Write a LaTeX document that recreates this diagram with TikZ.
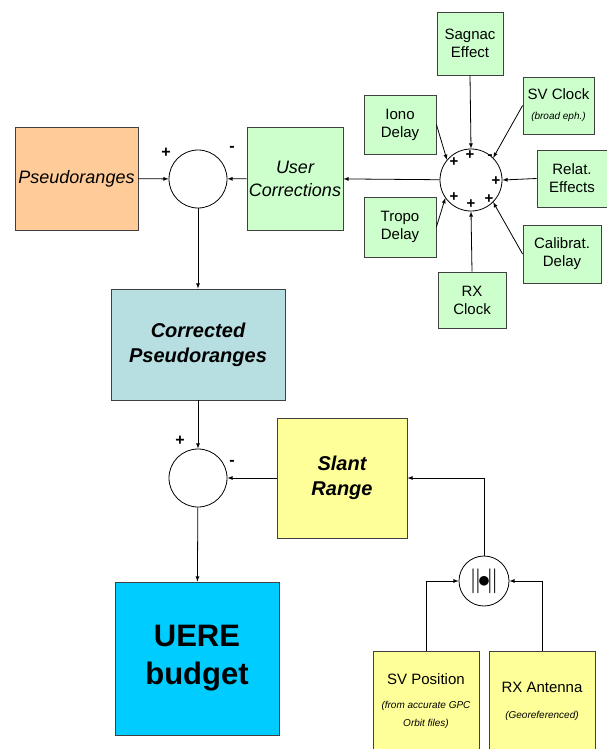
\documentclass[tikz,border=0pt]{standalone}
\usepackage{fontspec}
\setmainfont{Liberation Sans}
\usetikzlibrary{arrows,shapes}
\definecolor{rangeorange}{HTML}{FFCC99}
\definecolor{corrgreen}{HTML}{CCFFCC}
\definecolor{corrblue}{HTML}{B7DEE1}
\definecolor{slantyellow}{HTML}{FFFF99}
\definecolor{uerecyan}{HTML}{00CCFF}
\tikzstyle{block}=[rectangle,draw=black!75,line width=0.8pt,inner sep=0pt,align=center]
\tikzstyle{smallbox}=[block,fill=corrgreen,font=\fontsize{15}{18}\selectfont]
\tikzstyle{sumnode}=[circle,draw,line width=0.8pt,inner sep=0pt,fill=white]
\tikzstyle{edge}=[draw,line width=0.8pt,-latex]
\tikzstyle{sign}=[font=\bfseries\fontsize{16}{16}\selectfont,inner sep=0pt]
\tikzstyle{smallsign}=[font=\bfseries\fontsize{15}{15}\selectfont,inner sep=0pt]

\begin{document}
\begin{tikzpicture}[x=1pt,y=-1pt]
    \useasboundingbox (0,0) rectangle (607,749);

%main chain
    \node[block,fill=rangeorange,minimum width=123pt,minimum height=103pt,font=\itshape\fontsize{18}{21}\selectfont] (pseudo) at (76.5,178.5) {Pseudoranges};
    \node[sumnode,minimum size=58pt] (sumA) at (198,179) {};
    \node[block,fill=corrgreen,minimum width=96pt,minimum height=103pt,font=\itshape\fontsize{18}{23}\selectfont] (usercorr) at (295,178.5) {User\\Corrections};
    \node[block,fill=corrblue,minimum width=174pt,minimum height=111pt,font=\bfseries\itshape\fontsize{20}{25}\selectfont] (corrected) at (198,344.5) {Corrected\\Pseudoranges};
    \node[sumnode,minimum size=58pt] (sumB) at (198,478) {};
    \node[block,fill=slantyellow,minimum width=130pt,minimum height=120pt,font=\bfseries\itshape\fontsize{20}{25}\selectfont] (slant) at (342,478) {Slant\\Range};
    \node[block,fill=uerecyan,minimum width=164pt,minimum height=153pt,font=\bfseries\fontsize{31}{38}\selectfont] (uere) at (197,658.5) {UERE\\budget};

%corrections
    \node[sumnode,minimum size=62pt] (sumC) at (471,180) {};
    \foreach \pos/\name/\w/\h/\txt in {{(470,43.5)/sagnac/66/63/Sagnac\\Effect}, {(400,124.5)/iono/72/59/Iono\\Delay}, {(572,178.5)/relat/70/57/Relat.\\Effects}, {(400,227)/tropo/72/60/Tropo\\Delay}, {(562,254)/calib/78/58/Calibrat.\\Delay}, {(472,300)/rxclock/68/56/RX\\Clock}}
        \node[smallbox,minimum width=\w pt,minimum height=\h pt] (\name) at \pos {\txt};
    \node[smallbox,minimum width=71pt,minimum height=57pt] (svclock) at (558.5,105.5) {SV Clock\\[2pt]\itshape\fontsize{10}{12}\selectfont (broad eph.)};

%geometry
    \node[sumnode,minimum size=50pt,font=\fontsize{26}{26}\selectfont] (dotprod) at (484,581) {$\Vert\!{\bullet}\!\Vert$};
    \node[block,fill=slantyellow,minimum width=106pt,minimum height=100pt,font=\fontsize{15}{18}\selectfont] (svpos) at (426,701) {SV Position\\[6pt]\itshape\fontsize{10}{13}\selectfont (from accurate GPC\\\itshape\fontsize{10}{13}\selectfont Orbit files)};
    \node[block,fill=slantyellow,minimum width=106pt,minimum height=100pt,font=\fontsize{15}{18}\selectfont] (rxant) at (542,701) {RX Antenna\\[8pt]\itshape\fontsize{10}{13}\selectfont (Georeferenced)};

% Edges
    \foreach \source/\dest in {pseudo/sumA, usercorr/sumA, sumA/corrected, corrected/sumB, slant/sumB, sumB/uere, sumC/usercorr}
        \path[edge] (\source) -- (\dest);
    \path[edge] (sagnac.south) -- (sumC.north);
    \path[edge] (rxclock.north) -- (sumC.south);
    \path[edge] (relat.west) -- (sumC.east);
    \path[edge] (iono.east) -- (sumC.140);
    \path[edge] (tropo.east) -- (sumC.215);
    \path[edge] (svclock.west) -- (sumC.45);
    \path[edge] (calib.west) -- (sumC.-45);
    \path[edge] (dotprod.north) |- (slant.east);
    \path[edge] (svpos.north) |- (dotprod.west);
    \path[edge] (rxant.north) |- (dotprod.east);

% Signs
    \node[sign] (pA) at (166,153) {+};
    \node[sign] (mA) at (232,149) {-};
    \node[sign] (pB) at (180,441) {+};
    \node[sign] (mB) at (232,463) {-};
    \foreach \pos/\name/\s in {{(454,162)/s1/+}, {(470,155)/s2/+}, {(490,157)/s3/-}, {(496,181)/s4/+}, {(454,197)/s5/+}, {(471,204)/s6/+}, {(489,199)/s7/+}}
        \node[smallsign] (\name) at \pos {\s};

\end{tikzpicture}
\end{document}
